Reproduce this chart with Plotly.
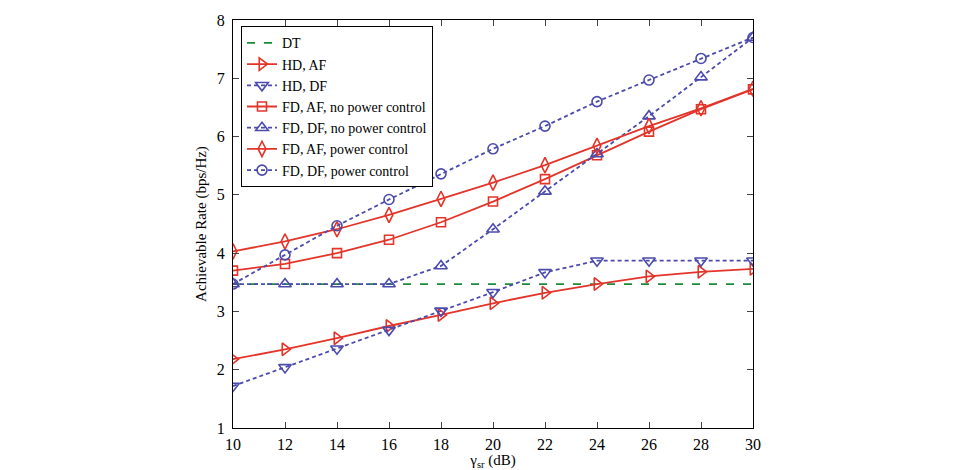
import plotly.graph_objects as go

snr_db = [10, 12, 14, 16, 18, 20, 22, 24, 26, 28, 30]

dt = [3.47] * 11
hd_af = [2.18, 2.35, 2.54, 2.75, 2.94, 3.14, 3.32, 3.47, 3.60, 3.68, 3.73]
hd_df = [1.72, 2.04, 2.36, 2.68, 3.01, 3.33, 3.67, 3.87, 3.87, 3.87, 3.87]
fd_af_npc = [3.70, 3.815, 4.00, 4.23, 4.53, 4.885, 5.27, 5.68, 6.085, 6.47, 6.81]
fd_df_npc = [3.47, 3.47, 3.47, 3.47, 3.78, 4.41, 5.06, 5.70, 6.35, 7.02, 7.70]
fd_af_pc = [4.03, 4.20, 4.41, 4.655, 4.93, 5.21, 5.51, 5.84, 6.18, 6.485, 6.82]
fd_df_pc = [3.47, 3.97, 4.47, 4.92, 5.36, 5.79, 6.18, 6.60, 6.97, 7.34, 7.70]

RED = "#e3342a"
BLUE = "#4b4bad"
GREEN = "#1a8a3c"

fig = go.Figure()

def add(name, y, color, dash, symbol, size=9, markers=True):
    fig.add_trace(go.Scatter(
        x=snr_db, y=y, name=name,
        mode="lines+markers" if markers else "lines",
        line=dict(color=color, width=1.8, dash=dash),
        marker=dict(symbol=symbol, size=size, color=color,
                    line=dict(color=color, width=1.6)),
    ))

add("DT", dt, GREEN, "8px,9px", None, markers=False)
add("HD, AF", hd_af, RED, "solid", "triangle-right-open", 11)
add("HD, DF", hd_df, BLUE, "4px,3px", "triangle-down-open", 11)
add("FD, AF, no power control", fd_af_npc, RED, "solid", "square-open", 9)
add("FD, DF, no power control", fd_df_npc, BLUE, "4px,3px", "triangle-up-open", 11)
add("FD, AF, power control", fd_af_pc, RED, "solid", "diamond-tall-open", 11)
add("FD, DF, power control", fd_df_pc, BLUE, "4px,3px", "circle-open", 10)

font = "Liberation Serif"

fig.update_layout(
    width=964, height=470,
    margin=dict(l=233, r=211, t=20, b=42, autoexpand=False),
    paper_bgcolor="white", plot_bgcolor="white",
    font=dict(family=font, size=15, color="black"),
    showlegend=True,
    legend=dict(x=0.015, y=0.985, xanchor="left", yanchor="top",
                bordercolor="black", borderwidth=1.2, bgcolor="white",
                font=dict(family=font, size=14), tracegroupgap=0),
    xaxis=dict(range=[10, 30], tickmode="array", tickvals=snr_db,
               ticks="inside", ticklen=6, mirror="allticks",
               showline=True, linecolor="black", linewidth=1.2,
               showgrid=False, zeroline=False, ticklabelstandoff=2,
               automargin=False,
               tickfont=dict(family=font, size=16),
               title=dict(text="γ<sub>sr</sub> (dB)", standoff=4,
                          font=dict(family=font, size=15))),
    yaxis=dict(range=[1, 8], dtick=1,
               ticks="inside", ticklen=6, mirror="allticks",
               showline=True, linecolor="black", linewidth=1.2,
               showgrid=False, zeroline=False, ticklabelstandoff=4,
               automargin=False,
               tickfont=dict(family=font, size=16),
               title=dict(text="Achievable Rate (bps/Hz)", standoff=6,
                          font=dict(family=font, size=15))),
)

fig.write_html("out.html")
